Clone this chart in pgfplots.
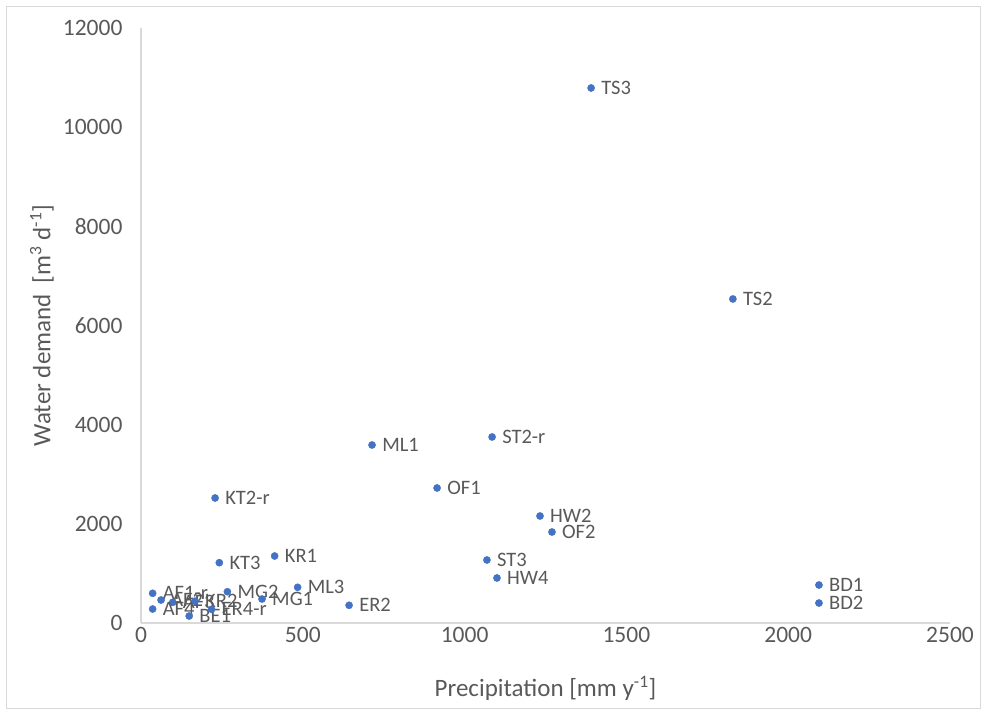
\documentclass[border=0pt]{standalone}
\usepackage{fontspec}
\setmainfont{Carlito}
\usepackage{pgfplots}
\pgfplotsset{compat=1.18}
\definecolor{pt}{HTML}{4472C4}
\definecolor{txt}{HTML}{595959}
\definecolor{ln}{HTML}{D9D9D9}
\begin{document}
\begin{tikzpicture}
\useasboundingbox (-141pt,-92pt) rectangle (844pt,623pt);
\draw[ln, line width=1pt] (-134pt,-85pt) rectangle (839pt,616pt);
\begin{axis}[
  at={(0pt,0pt)}, anchor=south west,
  scale only axis, width=809pt, height=595pt,
  xmin=0, xmax=2500, ymin=0, ymax=12000,
  xtick={0,500,...,2500}, ytick={0,2000,...,12000},
  scaled ticks=false,
  axis lines=left, axis line style={-, ln, line width=1.2pt},
  major tick length=0pt,
  /pgf/number format/assume math mode=true,
  /pgf/number format/1000 sep={},
  ticklabel style={font=\fontsize{23.5}{23.5}\selectfont, text=txt},
  xticklabel style={yshift=-1pt},
  yticklabel style={xshift=-15pt},
  xlabel={Precipitation [mm y\textsuperscript{-1}]},
  ylabel={Water demand~ [m\textsuperscript{3} d\textsuperscript{-1}]},
  every axis x label/.style={at={(axis description cs:0.5,0)}, yshift=-65pt, anchor=center,
    font=\fontsize{25}{25}\selectfont, text=txt},
  every axis y label/.style={at={(axis description cs:0,0.5)}, xshift=-99pt, rotate=90, anchor=center,
    font=\fontsize{25}{25}\selectfont, text=txt},
  clip=false,
]
\addplot[only marks, mark=*, mark size=3.6pt, color=pt,
  nodes near coords, point meta=explicit symbolic,
  nodes near coords style={anchor=west, xshift=8pt, inner sep=2pt,
    font=\fontsize{20.5}{20.5}\selectfont, text=txt}]
  table[meta=label] {
x y label
1391 10790 TS3
1829 6535 TS2
1085 3752 ST2-r
714 3590 ML1
915 2723 OF1
1233 2158 HW2
1270 1835 OF2
229 2521 KT2-r
242 1216 KT3
413 1351 KR1
1069 1271 ST3
1100 908 HW4
484 720 ML3
643 357 ER2
2095 766 BD1
2095 403 BD2
267 631 MG2
374 484 MG1
36 599 AF1-r
62 464 AF2
98 417 AF3
167 440 KR2
36 282 AF4
149 141 BE1
218 276 ER4-r
};
\end{axis}
\end{tikzpicture}
\end{document}
